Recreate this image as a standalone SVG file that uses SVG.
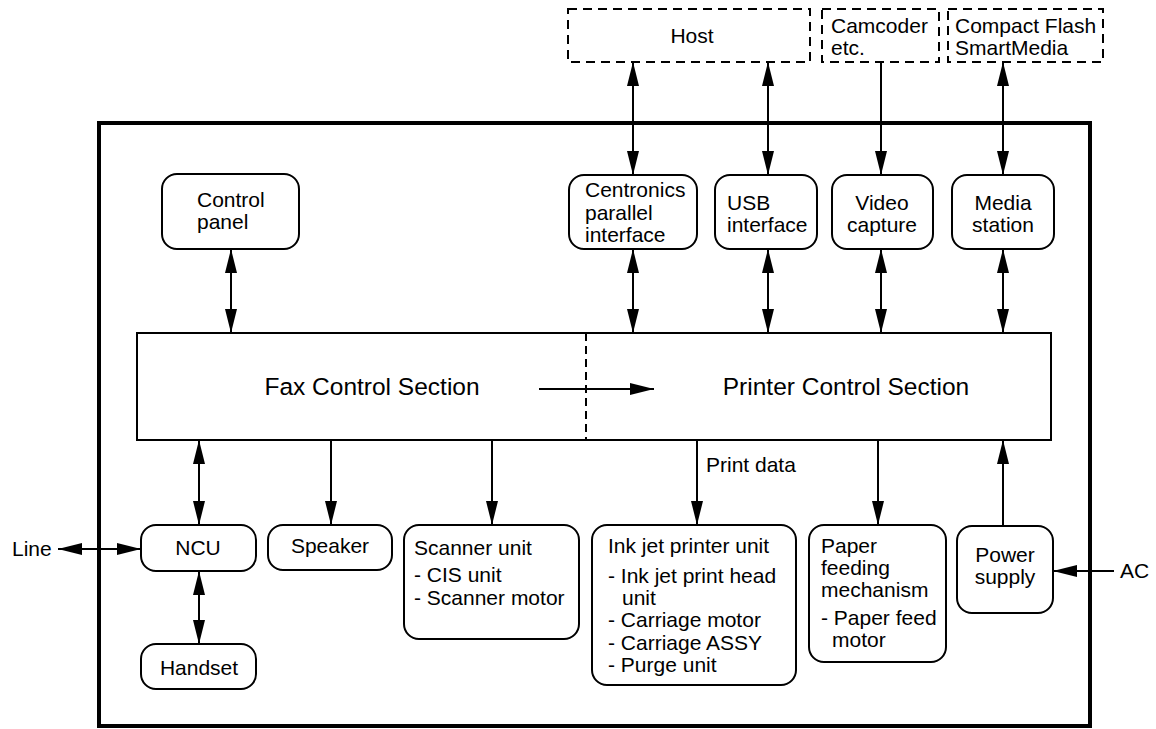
<svg xmlns="http://www.w3.org/2000/svg" width="1156" height="729" viewBox="0 0 1156 729">
<style>
.bx{fill:#fff;stroke:#000;stroke-width:2}
.dbx{fill:#fff;stroke:#000;stroke-width:2;stroke-dasharray:9 6}
.t{font-family:"Liberation Sans",Arial,sans-serif;font-size:21px;fill:#000}
.big{font-family:"Liberation Sans",Arial,sans-serif;font-size:24.5px;fill:#000}
.c{text-anchor:middle}
.ln{stroke:#000;stroke-width:2;fill:none}
.a1{marker-end:url(#ah)}
.a2{marker-start:url(#ah);marker-end:url(#ah)}
</style>
<defs>
<marker id="ah" markerUnits="userSpaceOnUse" markerWidth="24" markerHeight="12" viewBox="0 0 24 12" refX="24" refY="6" orient="auto-start-reverse">
<path d="M0,0 L24,6 L0,12 z" fill="#000"/>
</marker>
</defs>
<rect width="1156" height="729" fill="#fff"/>
<g id="frame"><rect x="99" y="123" width="991" height="603" fill="none" stroke="#000" stroke-width="4"/></g>

<g id="host"><rect class="dbx" x="568" y="9" width="242" height="53"/><text class="t c" x="692" y="43">Host</text></g>
<g id="camcoder"><rect class="dbx" x="822" y="9" width="117" height="53"/><text class="t" x="831" y="33">Camcoder</text><text class="t" x="831" y="55">etc.</text></g>
<g id="media-src"><rect class="dbx" x="948" y="9" width="155" height="53"/><text class="t" x="955" y="33">Compact Flash</text><text class="t" x="955" y="55">SmartMedia</text></g>

<g id="control-panel"><rect class="bx" x="162" y="174" width="137" height="75" rx="15"/><text class="t" x="197" y="207">Control</text><text class="t" x="197" y="229">panel</text></g>
<g id="centronics"><rect class="bx" x="569" y="175" width="128" height="74" rx="15"/><text class="t" x="585" y="197">Centronics</text><text class="t" x="585" y="220">parallel</text><text class="t" x="585" y="242">interface</text></g>
<g id="usb"><rect class="bx" x="715" y="175" width="102" height="74" rx="15"/><text class="t" x="727" y="210">USB</text><text class="t" x="727" y="232">interface</text></g>
<g id="video"><rect class="bx" x="832" y="175" width="101" height="74" rx="15"/><text class="t c" x="882" y="210">Video</text><text class="t c" x="882" y="232">capture</text></g>
<g id="media-station"><rect class="bx" x="952" y="175" width="102" height="74" rx="15"/><text class="t c" x="1003" y="210">Media</text><text class="t c" x="1003" y="232">station</text></g>

<g id="control-section"><rect class="bx" x="137" y="333" width="914" height="107"/><line x1="586" y1="333" x2="586" y2="440" stroke="#000" stroke-width="2" stroke-dasharray="8 5"/><text class="big c" x="372" y="395">Fax Control Section</text><text class="big c" x="846" y="395">Printer Control Section</text></g>

<g id="ncu"><rect class="bx" x="141" y="525" width="115" height="46" rx="15"/><text class="t c" x="198" y="555">NCU</text></g>
<g id="handset"><rect class="bx" x="141" y="644" width="115" height="45" rx="15"/><text class="t c" x="199" y="675">Handset</text></g>
<g id="speaker"><rect class="bx" x="268" y="525" width="124" height="45" rx="15"/><text class="t c" x="330" y="553">Speaker</text></g>
<g id="scanner"><rect class="bx" x="404" y="525" width="175" height="114" rx="15"/><text class="t" x="414" y="555">Scanner unit</text><text class="t" x="414" y="582">- CIS unit</text><text class="t" x="414" y="605">- Scanner motor</text></g>
<g id="inkjet"><rect class="bx" x="592" y="525" width="204" height="160" rx="15"/><text class="t" x="608" y="553">Ink jet printer unit</text><text class="t" x="608" y="583">- Ink jet print head</text><text class="t" x="622" y="605">unit</text><text class="t" x="608" y="627">- Carriage motor</text><text class="t" x="608" y="650">- Carriage ASSY</text><text class="t" x="608" y="672">- Purge unit</text></g>
<g id="paper"><rect class="bx" x="809" y="525" width="137" height="137" rx="15"/><text class="t" x="821" y="553">Paper</text><text class="t" x="821" y="575">feeding</text><text class="t" x="821" y="597">mechanism</text><text class="t" x="821" y="625">- Paper feed</text><text class="t" x="832" y="647">motor</text></g>
<g id="power"><rect class="bx" x="957" y="526" width="96" height="87" rx="15"/><text class="t c" x="1005" y="562">Power</text><text class="t c" x="1005" y="584">supply</text></g>

<g id="labels"><text class="t" x="12" y="556">Line</text><text class="t" x="1120" y="578">AC</text><text class="t" x="706" y="472">Print data</text></g>

<g id="connectors">
<line class="ln a2" x1="633" y1="62" x2="633" y2="175"/>
<line class="ln a2" x1="768" y1="62" x2="768" y2="175"/>
<line class="ln a1" x1="881" y1="62" x2="881" y2="175"/>
<line class="ln a2" x1="1003" y1="62" x2="1003" y2="175"/>
<line class="ln a2" x1="231" y1="249" x2="231" y2="333"/>
<line class="ln a2" x1="633" y1="249" x2="633" y2="333"/>
<line class="ln a2" x1="768" y1="249" x2="768" y2="333"/>
<line class="ln a2" x1="881" y1="249" x2="881" y2="333"/>
<line class="ln a2" x1="1003" y1="249" x2="1003" y2="333"/>
<line class="ln a1" x1="539" y1="389" x2="654" y2="389"/>
<line class="ln a2" x1="199" y1="440" x2="199" y2="525"/>
<line class="ln a1" x1="331" y1="440" x2="331" y2="525"/>
<line class="ln a1" x1="492" y1="440" x2="492" y2="525"/>
<line class="ln a1" x1="697" y1="440" x2="697" y2="525"/>
<line class="ln a1" x1="878" y1="440" x2="878" y2="525"/>
<line class="ln a1" x1="1003" y1="526" x2="1003" y2="440"/>
<line class="ln a2" x1="199" y1="571" x2="199" y2="644"/>
<line class="ln a2" x1="58" y1="549" x2="141" y2="549"/>
<line class="ln a1" x1="1114" y1="571" x2="1053" y2="571"/>
</g>
</svg>
